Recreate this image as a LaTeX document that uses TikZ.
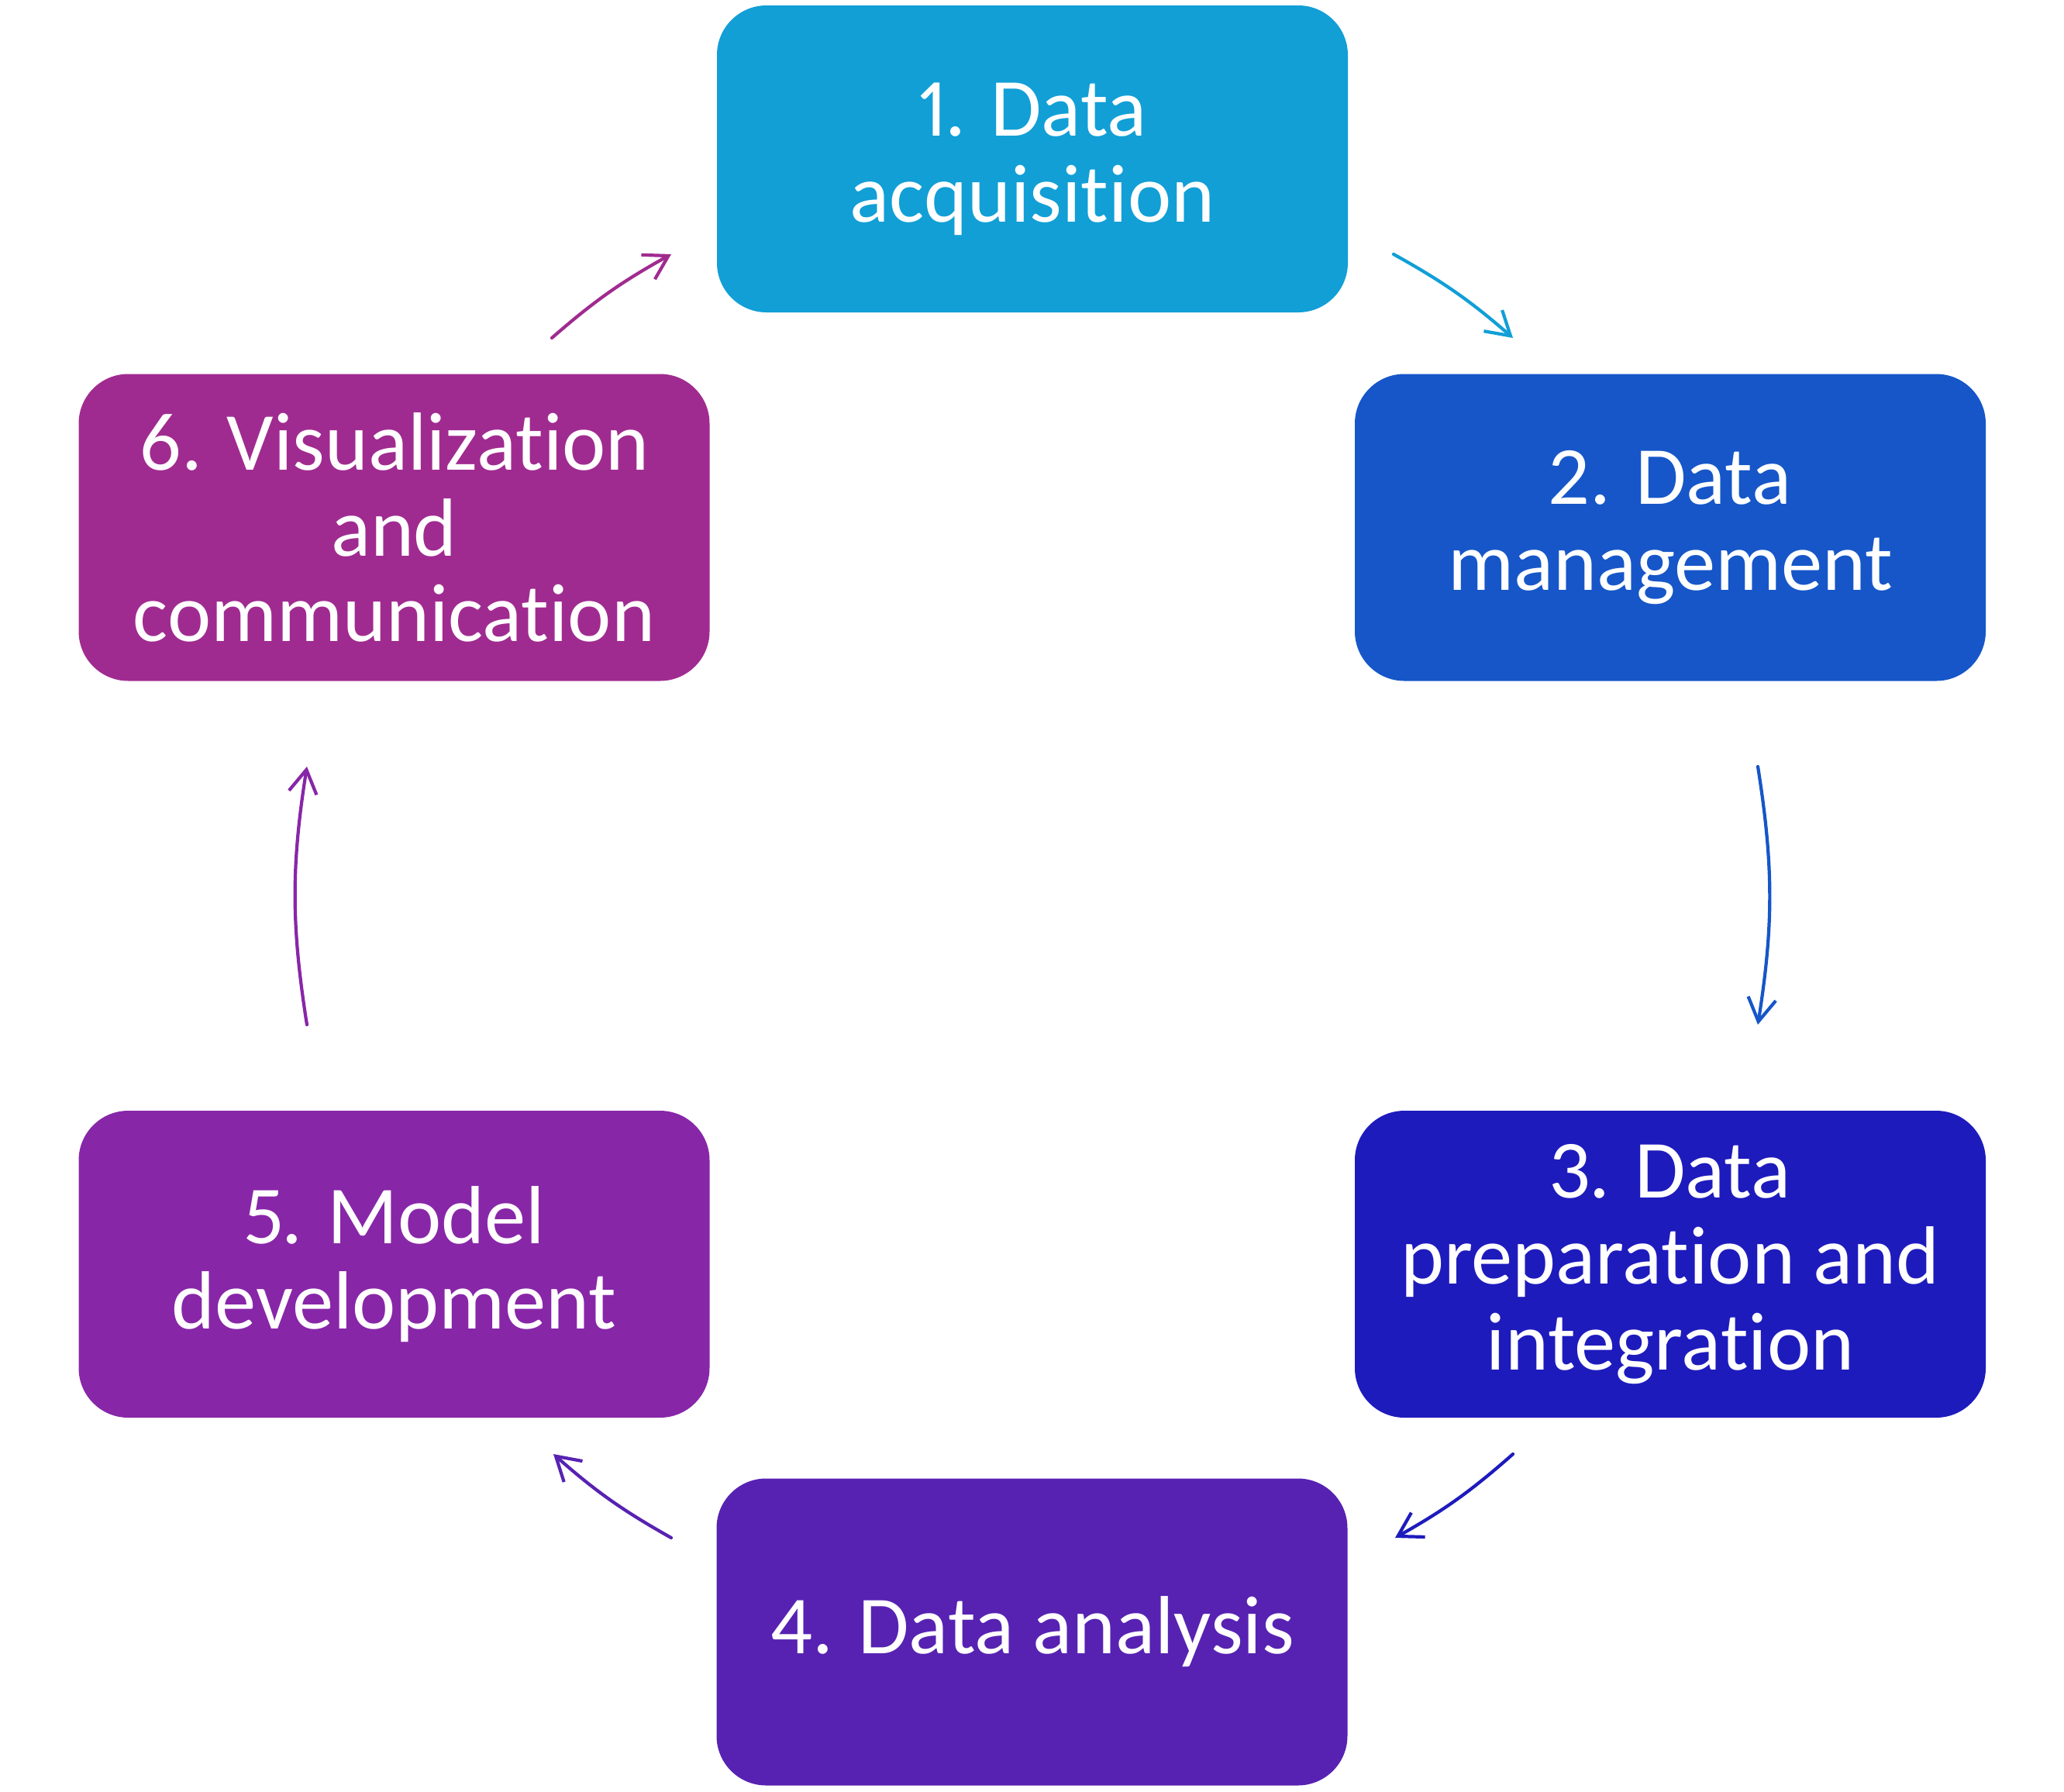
\documentclass[tikz,border=0pt]{standalone}
\usepackage{fontspec}
\setmainfont{Carlito}[Ligatures={NoCommon,NoContextual}, Numbers=Proportional]
\usetikzlibrary{arrows.meta}
\definecolor{acqcol}{RGB}{17,159,214}
\definecolor{mancol}{RGB}{22,86,200}
\definecolor{prepcol}{RGB}{30,27,189}
\definecolor{anacol}{RGB}{87,34,178}
\definecolor{modcol}{RGB}{136,38,168}
\definecolor{viscol}{RGB}{160,43,144}
\tikzset{
  stage/.style={rectangle, rounded corners=0.64cm, minimum width=8.14cm, minimum height=3.96cm,
    inner sep=0pt, text=white, align=center, font=\fontsize{30.3}{31.5}\selectfont},
  flow/.style={-{Straight Barb[length=0.3cm,width=0.36cm]}, line width=1.2pt, line cap=round, line join=round}
}
\begin{document}
\begin{tikzpicture}
\useasboundingbox (0,0) rectangle (26.63,-23.11);
\node[stage, fill=acqcol] (acq) at (13.32,-2.05) {1. Data\\acquisition};
\node[stage, fill=mancol] (man) at (21.55,-6.805) {2. Data\\management};
\node[stage, fill=prepcol] (prep) at (21.55,-16.31) {3. Data\\preparation and\\integration};
\node[stage, fill=anacol] (ana) at (13.315,-21.055) {4. Data analysis};
\node[stage, fill=modcol] (mod) at (5.085,-16.31) {5. Model\\development};
\node[stage, fill=viscol] (vis) at (5.085,-6.805) {6. Visualization\\and\\communication};
% free ends of the arrows
\coordinate (acq-out) at (17.98,-3.28);
\coordinate (man-in) at (19.52,-4.36);
\coordinate (man-out) at (22.68,-9.89);
\coordinate (prep-in) at (22.68,-13.22);
\coordinate (prep-out) at (19.52,-18.76);
\coordinate (ana-in) at (18.00,-19.84);
\coordinate (ana-out) at (8.66,-19.84);
\coordinate (mod-in) at (7.14,-18.76);
\coordinate (mod-out) at (3.96,-13.22);
\coordinate (vis-in) at (3.96,-9.89);
\coordinate (vis-out) at (7.12,-4.36);
\coordinate (acq-in) at (8.66,-3.28);
\draw[flow, acqcol] (acq-out) to[bend left=6] (man-in);
\draw[flow, mancol] (man-out) to[bend left=9] (prep-in);
\draw[flow, prepcol] (prep-out) to[bend left=6] (ana-in);
\draw[flow, anacol] (ana-out) to[bend left=6] (mod-in);
\draw[flow, modcol] (mod-out) to[bend left=9] (vis-in);
\draw[flow, viscol] (vis-out) to[bend left=6] (acq-in);
\end{tikzpicture}
\end{document}
